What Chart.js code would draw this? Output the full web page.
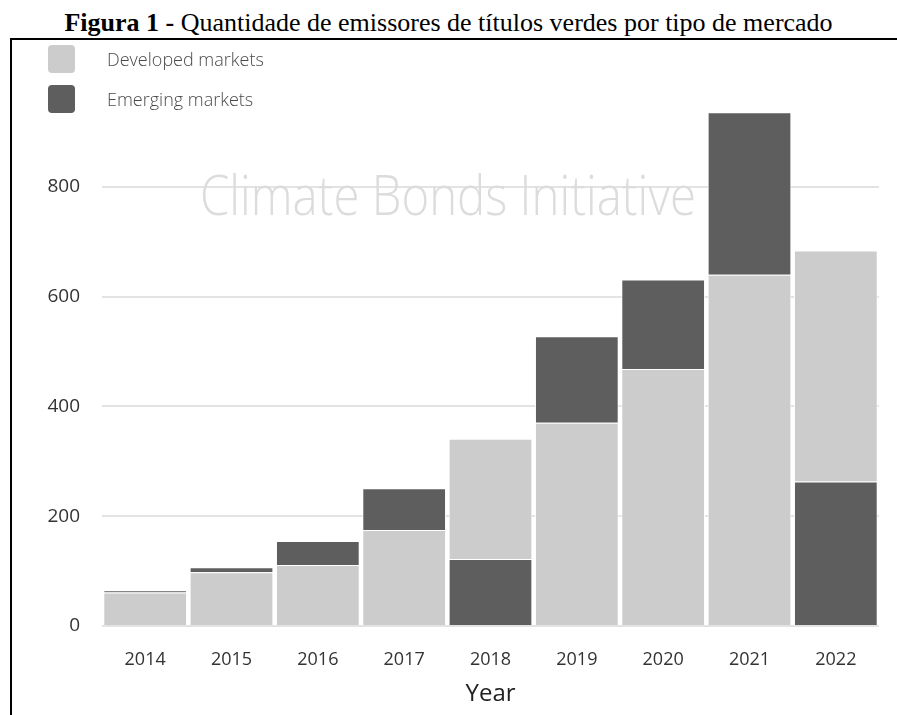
<!DOCTYPE html>
<html>
<head>
<meta charset="utf-8">
<script src="https://cdn.jsdelivr.net/npm/chart.js@4"></script>
<style>
  html, body { margin: 0; padding: 0; background: #fff; }
  #page { position: relative; width: 897px; height: 715px; overflow: hidden; }
  #caption {
    position: absolute; left: 0; top: 10px; width: 897px; text-align: center;
    font-family: "Liberation Serif", "Times New Roman", serif; font-size: 26px; line-height: 26px;
    color: #000; white-space: nowrap;
  }
  #frame {
    position: absolute; left: 10px; top: 38px; width: 887px; height: 677px;
    border-top: 2px solid #000; border-left: 2px solid #000; box-sizing: border-box;
  }
  #cfpiChart { position: absolute; left: 0; top: 0; }
  #legend { position: absolute; left: 48px; top: 45px; }
  .legend-item { display: flex; align-items: center; height: 28px; margin-bottom: 12px; }
  .legend-box { width: 27px; height: 28px; border-radius: 4px; margin-right: 32px; }
  .legend-text { font-family: "Open Sans", sans-serif; font-weight: 300; font-size: 18px; color: #4a4a4a; }
</style>
</head>
<body>
<div id="page">
  <div id="caption"><b>Figura 1 -</b> Quantidade de emissores de títulos verdes por tipo de mercado</div>
  <div id="frame"></div>
  <canvas id="cfpiChart" width="897" height="715"></canvas>
  <div id="legend"></div>
</div>
<script>
const years = ["2014", "2015", "2016", "2017", "2018", "2019", "2020", "2021", "2022"];
const developed = [61, 98, 111, 175, 219, 370, 468, 640, 421];
const emerging = [4, 9, 44, 76, 122, 158, 163, 296, 263];
// years where the emerging block sits under the developed one
const emergingBelow = [false, false, false, false, true, false, false, false, true];
const yTicks = [0, 200, 400, 600, 800];

const seriesNames = ["Developed markets", "Emerging markets"];
const seriesColors = ["#cccccc", "#5e5e5e"];

// floating [from, to] ranges so each year can choose its own stacking order
const developedRange = years.map((y, i) =>
  emergingBelow[i] ? [emerging[i], emerging[i] + developed[i]] : [0, developed[i]]
);
const emergingRange = years.map((y, i) =>
  emergingBelow[i] ? [0, emerging[i]] : [developed[i], developed[i] + emerging[i]]
);

// Legend
const legendDiv = document.getElementById("legend");
seriesNames.forEach((name, i) => {
  const item = document.createElement("div");
  item.className = "legend-item";
  item.innerHTML = `<div class="legend-box" style="background:${seriesColors[i]}"></div>
    <span class="legend-text">${name}</span>`;
  legendDiv.appendChild(item);
});

// faint watermark behind the bars
const watermark = {
  id: "watermark",
  beforeDatasetsDraw(chart) {
    const ctx = chart.ctx;
    const text = "Climate Bonds Initiative";
    ctx.save();
    ctx.font = "300 55px 'Open Sans', sans-serif";
    const w = ctx.measureText(text).width;
    const targetW = 496;
    ctx.translate(200, 215);
    ctx.scale(targetW / w, 1);
    ctx.fillStyle = "#dcdcdc";
    ctx.textBaseline = "alphabetic";
    ctx.fillText(text, 0, 0);
    ctx.restore();
  }
};

// white edges: gaps between bars and a thin line between the two blocks
const barBorder = { top: 1, left: 1, right: 1, bottom: 0 };

const ctx = document.getElementById("cfpiChart").getContext("2d");

new Chart(ctx, {
  type: "bar",
  data: {
    labels: years,
    datasets: [
      {
        label: seriesNames[0],
        data: developedRange,
        backgroundColor: seriesColors[0],
        borderColor: "#ffffff",
        borderWidth: barBorder,
        borderSkipped: false
      },
      {
        label: seriesNames[1],
        data: emergingRange,
        backgroundColor: seriesColors[1],
        borderColor: "#ffffff",
        borderWidth: barBorder,
        borderSkipped: false
      }
    ]
  },
  options: {
    responsive: false,
    animation: false,
    barPercentage: 0.97,
    categoryPercentage: 1,
    layout: { padding: { left: 30, right: 18, top: 77, bottom: 0 } },
    plugins: {
      legend: { display: false },
      tooltip: { enabled: false }
    },
    scales: {
      x: {
        stacked: true,
        grid: { display: false },
        border: { display: false },
        ticks: {
          color: "#333",
          padding: 15,
          font: { family: "Open Sans", size: 18 }
        },
        title: {
          display: true,
          text: "Year",
          color: "#222",
          font: { family: "Open Sans", size: 24 },
          padding: { top: 2, bottom: 6 }
        },
        afterFit: scale => { scale.height = 89; }
      },
      y: {
        stacked: false,
        min: 0,
        max: 1000,
        afterBuildTicks: scale => {
          scale.ticks = yTicks.map(v => ({ value: v }));
        },
        ticks: {
          color: "#333",
          padding: 22,
          font: { family: "Open Sans", size: 19 }
        },
        grid: { color: "#e3e3e3", lineWidth: 2, drawTicks: false },
        border: { display: false },
        afterFit: scale => { scale.width = 72; }
      }
    }
  },
  plugins: [watermark]
});
</script>
</body>
</html>
